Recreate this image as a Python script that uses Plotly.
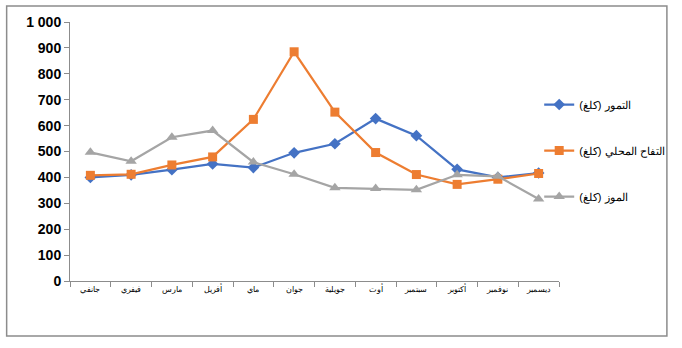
import plotly.graph_objects as go

months = ["جانفي", "فيفري", "مارس", "أفريل", "ماي", "جوان", "جويلية", "أوت", "سبتمبر", "أكتوبر", "نوفمبر", "ديسمبر"]
dates = [400, 410, 430, 452, 438, 495, 530, 627, 561, 431, 400, 417]
apples = [408, 412, 448, 479, 624, 885, 652, 496, 411, 373, 393, 415]
bananas = [497, 462, 555, 581, 459, 412, 360, 357, 352, 410, 404, 317]

series = [
    ("التمور (كلغ)", dates, "#4472C4", "diamond", 9),
    ("التفاح المحلي (كلغ)", apples, "#ED7D31", "square", 9),
    ("الموز (كلغ)", bananas, "#A5A5A5", "triangle-up", 10),
]

fig = go.Figure()
for i, (name, vals, color, sym, size) in enumerate(series):
    fig.add_trace(go.Scatter(
        x=months, y=vals, name=name, mode="lines+markers", legendgroup=f"g{i}",
        line=dict(color=color, width=2.25),
        marker=dict(symbol=sym, size=size, color=color),
    ))

W, H = 682, 348
L, R, T, B = 70, 564, 22, 281
pw, ph = R - L, B - T

def px(x):
    return (x - L) / pw

def py(y):
    return (B - y) / ph

fig.update_layout(
    width=W, height=H,
    margin=dict(l=L, r=W - R, t=T, b=H - B),
    paper_bgcolor="white", plot_bgcolor="white",
    separators=", ",
    showlegend=True,
    legend=dict(
        x=px(544), y=py(90), xanchor="left", yanchor="top",
        font=dict(family="Liberation Sans, Arial", size=11, color="black"),
        tracegroupgap=27, itemwidth=30,
        bgcolor="rgba(0,0,0,0)",
    ),
    xaxis=dict(
        type="category", showgrid=False, showline=True, linecolor="#8c8c8c", linewidth=1,
        ticks="outside", tickson="boundaries", ticklen=5, tickcolor="#8c8c8c",
        tickfont=dict(family="Liberation Sans, Arial", size=8, color="black"),
        range=[-0.5, 11.5],
    ),
    yaxis=dict(
        range=[0, 1000], tickvals=list(range(0, 1001, 100)), tickformat=",d",
        showgrid=False, showline=True, linecolor="#8c8c8c", linewidth=1,
        ticks="outside", ticklen=5, tickcolor="#8c8c8c",
        tickfont=dict(family="Liberation Sans, Arial", size=14, color="black", weight="bold"),
        zeroline=False,
    ),
    shapes=[dict(
        type="rect", xref="paper", yref="paper",
        x0=px(6), x1=px(673), y0=py(336), y1=py(6),
        line=dict(color="#8c8c8c", width=1.5), fillcolor="rgba(0,0,0,0)", layer="below",
    )],
)

fig.write_html("out.html")
